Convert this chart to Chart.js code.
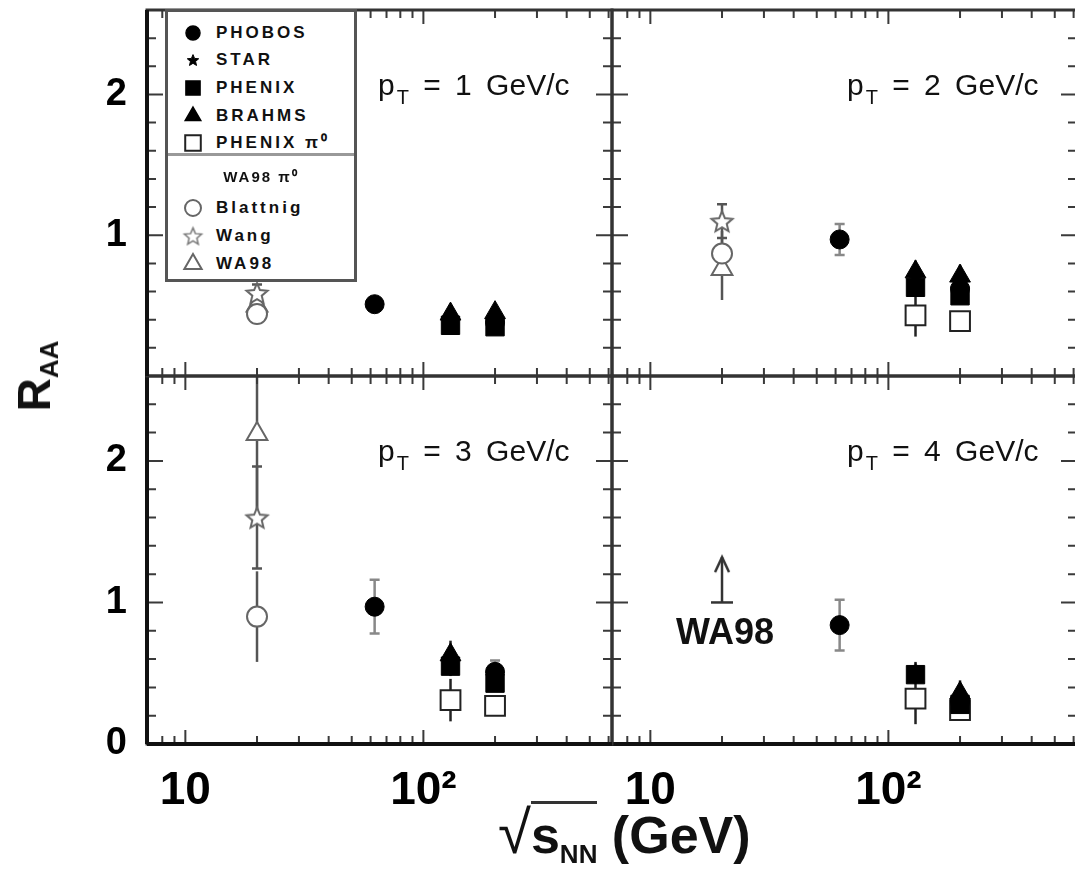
<!DOCTYPE html>
<html>
<head>
<meta charset="utf-8">
<script src="https://cdn.jsdelivr.net/npm/chart.js@4.4.0/dist/chart.umd.min.js"></script>
<style>
  html, body { margin: 0; padding: 0; background: #fff; }
  #page { position: relative; width: 1075px; height: 891px; overflow: hidden; font-family: "Liberation Sans", Arial, sans-serif; color: #111; }
  #page canvas.panel { position: absolute; left: 0; top: 0; }
  .pt { position: absolute; font-size: 30px; line-height: 30px; white-space: nowrap; word-spacing: 6px; }
  .pt sub { font-size: 20px; vertical-align: -9px; margin-left: 2px; }
  #legend { position: absolute; left: 165px; top: 9px; width: 186px; height: 267px; border: 3px solid #555; background: #fff; }
  #legend .row { position: absolute; left: 0; height: 24px; line-height: 24px; font-weight: bold; font-size: 17px; letter-spacing: 3px; white-space: nowrap; }
  #legend .row canvas { position: absolute; left: 13px; top: 0; }
  #legend .row span { position: absolute; left: 48px; top: 0; }
  #legend .sep { position: absolute; left: 0; width: 186px; top: 141px; height: 3px; background: #999; }
  #legend .head { position: absolute; left: 0; width: 186px; text-align: center; top: 154px; font-weight: bold; font-size: 15px; letter-spacing: 2px; }
  #yTitle { position: absolute; left: 36px; top: 376px; transform: translate(-50%, -50%) rotate(-90deg); font-weight: bold; font-size: 46px; white-space: nowrap; }
  #yTitle sub { font-size: 26px; vertical-align: -8px; }
  #xTitle { position: absolute; left: 498px; top: 798px; font-weight: bold; font-size: 52px; white-space: nowrap; }
  #xTitle .rad { font-weight: normal; font-size: 60px; }
  #xTitle .ov { border-top: 3px solid #333; padding-top: 2px; }
  #xTitle sub { font-size: 26px; vertical-align: -10px; }
  #wa98Note { position: absolute; left: 676px; top: 614px; font-weight: bold; font-size: 36px; line-height: 36px; }
</style>
</head>
<body>
<div id="page">
  <div class="pt" style="left:378px; top:70px">p<sub>T</sub> = 1 GeV/c</div>
  <div class="pt" style="left:847px; top:70px">p<sub>T</sub> = 2 GeV/c</div>
  <div class="pt" style="left:378px; top:436px">p<sub>T</sub> = 3 GeV/c</div>
  <div class="pt" style="left:847px; top:436px">p<sub>T</sub> = 4 GeV/c</div>
  <div id="wa98Note">WA98</div>
  <div id="yTitle">R<sub>AA</sub></div>
  <div id="xTitle"><span class="rad">√</span><span class="ov">s<sub>NN</sub></span>&nbsp;(GeV)</div>
  <div id="legend"></div>
</div>
<script>
// R_AA vs sqrt(s_NN), one list of [sqrtS, R_AA, error] per pT panel
const ptValues = [1, 2, 3, 4];

const xRange = [6.9, 620];
const yRange = [0, 2.6];
const xTicks = [7, 8, 9, 10, 20, 30, 40, 50, 60, 70, 80, 90, 100, 200, 300, 400, 500, 600];
const xTickLabels = {10: '10', 100: '10²'};
const yTicks = [0, 0.2, 0.4, 0.6, 0.8, 1, 1.2, 1.4, 1.6, 1.8, 2, 2.2, 2.4, 2.6];
const yTickLabelsTop = [1, 2];
const yTickLabelsBottom = [0, 1, 2];

const phobos = [
    [[62.4, 0.51, 0.04], [200, 0.38, 0.05]],
    [[62.4, 0.97, 0.11], [200, 0.62, 0.07]],
    [[62.4, 0.97, 0.19], [200, 0.51, 0.08]],
    [[62.4, 0.84, 0.18], [200, 0.30, 0.07]]
];
const star = [
    [],
    [[130, 0.70, 0.08], [200, 0.66, 0.07]],
    [[130, 0.58, 0.08]],
    [[130, 0.52, 0.06]]
];
const phenix = [
    [[130, 0.36, 0.04], [200, 0.35, 0.04]],
    [[130, 0.63, 0.06], [200, 0.57, 0.06]],
    [[130, 0.55, 0.07], [200, 0.43, 0.06]],
    [[130, 0.49, 0.06], [200, 0.28, 0.06]]
];
const brahms = [
    [[130, 0.44, 0.05], [200, 0.45, 0.05]],
    [[130, 0.74, 0.08], [200, 0.71, 0.08]],
    [[130, 0.63, 0.10]],
    [[200, 0.36, 0.09]]
];
const phenixPi0 = [
    [],
    [[130, 0.43, 0.15], [200, 0.39, 0.05]],
    [[130, 0.31, 0.15], [200, 0.27, 0.04]],
    [[130, 0.32, 0.18], [200, 0.24, 0.05]]
];
const blattnig = [
    [[20, 0.44, 0.05]],
    [[20, 0.87, 0.16]],
    [[20, 0.90, 0.32]],
    []
];
const wang = [
    [[20, 0.59, 0.06]],
    [[20, 1.10, 0.12]],
    [[20, 1.60, 0.36]],
    []
];
const wa98 = [
    [[20, 0.50, 0.07]],
    [[20, 0.76, 0.22]],
    [[20, 2.19, 0.55]],
    []
];
// WA98 lower limit at pT = 4: [sqrtS, limit, arrow tip]
const wa98Limit = [null, null, null, [20, 1.0, 1.32]];


const fontMain = "'Liberation Sans', Arial, sans-serif";
const fontNarrow = "'Liberation Sans Narrow', 'Liberation Sans', Arial, sans-serif";

const makeStar = (r, fill, stroke, lw) => {
    const size = Math.ceil(2 * r + 2 * lw + 4);
    const c = document.createElement('canvas');
    c.width = c.height = size;
    const g = c.getContext('2d');
    g.translate(size / 2, size / 2 + r * 0.1);
    g.beginPath();
    for (let k = 0; k < 10; k++) {
        const rad = k % 2 ? r * 0.45 : r;
        const a = -Math.PI / 2 + k * Math.PI / 5;
        g.lineTo(Math.cos(a) * rad, Math.sin(a) * rad);
    }
    g.closePath();
    g.fillStyle = fill;
    g.fill();
    if (lw) {
        g.lineWidth = lw;
        g.strokeStyle = stroke;
        g.stroke();
    }
    return c;
};

const makeArrowHead = () => {
    const c = document.createElement('canvas');
    c.width = 22;
    c.height = 40;
    const g = c.getContext('2d');
    g.strokeStyle = '#333';
    g.lineWidth = 2.5;
    g.beginPath();
    g.moveTo(4, 35);
    g.lineTo(11, 20);
    g.lineTo(18, 35);
    g.stroke();
    return c;
};

const series = [
    {name: 'PHOBOS', values: phobos, style: 'circle', radius: 9.5, fill: '#000', line: '#000', width: 1, err: '#888', cap: 10},
    {name: 'STAR', values: star, style: makeStar(8, '#000', '#000', 1), radius: 8, fill: '#000', line: '#000', width: 0, err: '#222', cap: 0},
    {name: 'PHENIX', values: phenix, style: 'rect', radius: 13, fill: '#000', line: '#000', width: 1, err: '#222', cap: 0},
    {name: 'BRAHMS', values: brahms, style: 'triangle', radius: 12, fill: '#000', line: '#000', width: 1, err: '#222', cap: 0},
    {name: 'PHENIX π0', values: phenixPi0, style: 'rect', radius: 14, fill: '#fff', line: '#222', width: 2, err: '#222', cap: 0},
    {name: 'Wang', values: wang, style: makeStar(11, '#fff', '#666', 2), radius: 11, fill: '#fff', line: '#666', width: 0, err: '#555', cap: 10},
    {name: 'Blattnig', values: blattnig, style: 'circle', radius: 10, fill: '#fff', line: '#666', width: 2, err: '#555', cap: 0},
    {name: 'WA98', values: wa98, style: 'triangle', radius: 12, fill: '#fff', line: '#666', width: 2, err: '#555', cap: 0}
];

const panels = [
    {box: [147, 10, 612, 376], xLabels: false, yLabels: yTickLabelsTop},
    {box: [612, 10, 1077, 376], xLabels: false, yLabels: null},
    {box: [147, 376, 612, 744], xLabels: true, yLabels: yTickLabelsBottom},
    {box: [612, 376, 1077, 744], xLabels: true, yLabels: null}
];

const W = 1080, H = 891;

const isMajorLog = v => Math.abs(Math.log10(v) - Math.round(Math.log10(v))) < 1e-9;
const isInt = v => Math.abs(v - Math.round(v)) < 1e-9;

const errorBars = {
    id: 'errorBars',
    beforeDatasetsDraw(chart) {
        const {ctx, chartArea: a, scales: {y}} = chart;
        ctx.save();
        ctx.beginPath();
        ctx.rect(a.left, a.top, a.width, a.height);
        ctx.clip();
        chart.data.datasets.forEach((ds, i) => {
            if (!ds.errors) return;
            const meta = chart.getDatasetMeta(i);
            ctx.strokeStyle = ds.errorColor;
            ctx.lineWidth = 2.5;
            meta.data.forEach((pt, j) => {
                const v = ds.data[j].y, e = ds.errors[j];
                const top = y.getPixelForValue(v + e), bot = y.getPixelForValue(v - e);
                ctx.beginPath();
                ctx.moveTo(pt.x, top);
                ctx.lineTo(pt.x, bot);
                if (ds.capWidth) {
                    const h = ds.capWidth / 2;
                    ctx.moveTo(pt.x - h, top);
                    ctx.lineTo(pt.x + h, top);
                    ctx.moveTo(pt.x - h, bot);
                    ctx.lineTo(pt.x + h, bot);
                }
                ctx.stroke();
            });
        });
        ctx.restore();
    }
};

// frame with inward tick marks on all four sides
const frame = {
    id: 'frame',
    afterDatasetsDraw(chart) {
        const {ctx, chartArea: a, scales: {x, y}} = chart;
        ctx.save();
        ctx.strokeStyle = '#3a3a3a';
        ctx.lineWidth = 2;
        ctx.beginPath();
        x.ticks.forEach(t => {
            const px = x.getPixelForValue(t.value);
            if (px < a.left + 2 || px > a.right - 2) return;
            const len = isMajorLog(t.value) ? 14 : 8;
            ctx.moveTo(px, a.bottom);
            ctx.lineTo(px, a.bottom - len);
            ctx.moveTo(px, a.top);
            ctx.lineTo(px, a.top + len);
        });
        y.ticks.forEach(t => {
            const py = y.getPixelForValue(t.value);
            if (py < a.top + 2 || py > a.bottom - 2) return;
            const len = isInt(t.value) ? 16 : 9;
            ctx.moveTo(a.left, py);
            ctx.lineTo(a.left + len, py);
            ctx.moveTo(a.right, py);
            ctx.lineTo(a.right - len, py);
        });
        ctx.stroke();
        ctx.lineWidth = 3;
        ctx.strokeStyle = '#333';
        ctx.strokeRect(a.left, a.top, a.width, a.height);
        ctx.lineWidth = 4;
        ctx.strokeStyle = '#111';
        ctx.beginPath();
        if (a.left < 200) {
            ctx.moveTo(a.left, a.top);
            ctx.lineTo(a.left, a.bottom);
        }
        if (a.bottom > 700) {
            ctx.moveTo(a.left, a.bottom);
            ctx.lineTo(a.right, a.bottom);
        }
        ctx.stroke();
        ctx.restore();
    }
};

const page = document.getElementById('page');
const arrowHead = makeArrowHead();

panels.forEach((p, i) => {
    const canvas = document.createElement('canvas');
    canvas.className = 'panel';
    canvas.width = W;
    canvas.height = H;
    page.insertBefore(canvas, page.firstChild);

    const datasets = series.filter(s => s.values[i].length).map(s => ({
        label: s.name,
        data: s.values[i].map(([x, y]) => ({x, y})),
        errors: s.values[i].map(v => v[2]),
        errorColor: s.err,
        capWidth: s.cap,
        pointStyle: s.style,
        pointRadius: s.radius,
        pointBackgroundColor: s.fill,
        pointBorderColor: s.line,
        pointBorderWidth: s.width
    }));

    const lim = wa98Limit[i];
    if (lim) {
        datasets.push({
            label: 'WA98 limit',
            data: [{x: lim[0], y: lim[1]}, {x: lim[0], y: lim[2]}],
            showLine: true,
            borderColor: '#333',
            borderWidth: 2.5,
            pointStyle: ['line', arrowHead],
            pointRadius: [11, 10],
            pointBorderColor: '#333',
            pointBorderWidth: 2.5
        });
    }

    const [l, t, r, b] = p.box;
    // axes with labels take the whole margin, the others take none
    const yAxisWidth = p.yLabels ? l : 0;
    const xAxisHeight = p.xLabels ? H - b : 0;

    new Chart(canvas, {
        type: 'scatter',
        data: {datasets},
        options: {
            responsive: false,
            animation: false,
            events: [],
            layout: {
                autoPadding: false,
                padding: {left: l - yAxisWidth, top: t, right: W - r, bottom: H - b - xAxisHeight}
            },
            plugins: {legend: {display: false}, tooltip: {enabled: false}},
            scales: {
                x: {
                    type: 'logarithmic',
                    min: xRange[0],
                    max: xRange[1],
                    grid: {display: false},
                    border: {display: false},
                    afterBuildTicks: s => { s.ticks = xTicks.map(v => ({value: v})); },
                    afterFit: s => {
                        s.height = xAxisHeight;
                        s.paddingLeft = 0;
                        s.paddingRight = 0;
                    },
                    ticks: {
                        display: p.xLabels,
                        autoSkip: false,
                        maxRotation: 0,
                        padding: 12,
                        color: '#000',
                        font: {family: fontNarrow, size: 46, weight: 'bold'},
                        callback: v => xTickLabels[v] || ''
                    }
                },
                y: {
                    type: 'linear',
                    min: yRange[0],
                    max: yRange[1],
                    grid: {display: false},
                    border: {display: false},
                    afterBuildTicks: s => { s.ticks = yTicks.map(v => ({value: v})); },
                    afterFit: s => {
                        s.width = yAxisWidth;
                        s.paddingTop = 0;
                        s.paddingBottom = 0;
                    },
                    ticks: {
                        display: !!p.yLabels,
                        autoSkip: false,
                        padding: 12,
                        color: '#000',
                        font: {family: fontMain, size: 38, weight: 'bold'},
                        callback: v => (p.yLabels && p.yLabels.includes(v)) ? String(v) : ''
                    }
                }
            }
        },
        plugins: [errorBars, frame]
    });
});

// legend inside the first panel
const legend = document.getElementById('legend');
const legendRows = [
    {label: 'PHOBOS', s: 0, r: 7, top: 9},
    {label: 'STAR', s: 1, top: 36, img: makeStar(6, '#000', '#000', 1)},
    {label: 'PHENIX', s: 2, r: 10, top: 64},
    {label: 'BRAHMS', s: 3, r: 9, top: 92},
    {label: 'PHENIX π⁰', s: 4, r: 11, top: 119},
    {label: 'Blattnig', s: 6, r: 8, top: 184},
    {label: 'Wang', s: 5, top: 212, img: makeStar(9, '#fff', '#777', 1.5)},
    {label: 'WA98', s: 7, r: 10, top: 240}
];
legendRows.forEach(row => {
    const def = series[row.s];
    const div = document.createElement('div');
    div.className = 'row';
    div.style.top = row.top + 'px';
    const c = document.createElement('canvas');
    c.width = c.height = 24;
    const g = c.getContext('2d');
    g.fillStyle = def.fill;
    g.strokeStyle = def.line;
    g.lineWidth = Math.max(def.width, 1.5);
    Chart.helpers.drawPoint(g, {
        pointStyle: row.img || def.style,
        radius: row.r || 8,
        rotation: 0,
        borderWidth: row.img ? 0 : Math.max(def.width, 1.5)
    }, 12, 12);
    const span = document.createElement('span');
    span.textContent = row.label;
    div.appendChild(c);
    div.appendChild(span);
    legend.appendChild(div);
});
const sep = document.createElement('div');
sep.className = 'sep';
legend.appendChild(sep);
const head = document.createElement('div');
head.className = 'head';
head.textContent = 'WA98 π⁰';
legend.appendChild(head);
</script>
</body>
</html>
